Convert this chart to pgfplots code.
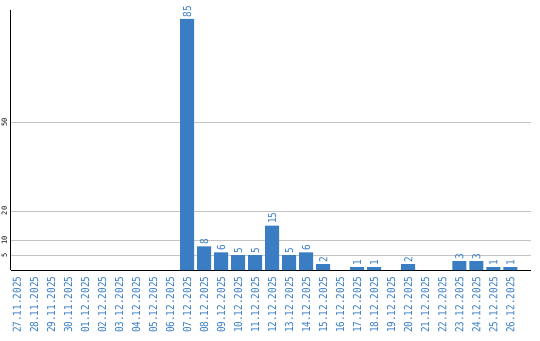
\documentclass[border=0pt]{standalone}
\usepackage{fontspec}
\setmainfont{DejaVu Sans Mono}
\usepackage{graphicx}
\usepackage{pgfplots}
\pgfplotsset{compat=1.18}
\definecolor{barblue}{HTML}{3A7DC2}
\definecolor{gridgray}{HTML}{C4C4C4}
\newcommand\dl[1]{\scalebox{0.85}[1]{#1}}
\begin{document}
\begin{tikzpicture}
\useasboundingbox (-10.7pt,-70pt) rectangle (529.3pt,270pt);
\begin{axis}[
  at={(0pt,0pt)}, anchor=south west,
  scale only axis, width=520pt, height=260pt,
  xmin=-0.37, xmax=30.2, ymin=0, ymax=88,
  axis x line=bottom, axis y line=left,
  axis line style={-, black, line width=1pt},
  ymajorgrids, grid style={gridgray, line width=0.8pt},
  major tick length=0pt,
  ytick={5,10,20,50},
  yticklabel style={rotate=90, anchor=south, font=\fontsize{7}{8}\selectfont, black, inner sep=0pt, yshift=3.5pt},
  xtick={0,...,29},
  xticklabels={\dl{27.11.2025},\dl{28.11.2025},\dl{29.11.2025},\dl{30.11.2025},\dl{01.12.2025},\dl{02.12.2025},\dl{03.12.2025},\dl{04.12.2025},\dl{05.12.2025},\dl{06.12.2025},\dl{07.12.2025},\dl{08.12.2025},\dl{09.12.2025},\dl{10.12.2025},\dl{11.12.2025},\dl{12.12.2025},\dl{13.12.2025},\dl{14.12.2025},\dl{15.12.2025},\dl{16.12.2025},\dl{17.12.2025},\dl{18.12.2025},\dl{19.12.2025},\dl{20.12.2025},\dl{21.12.2025},\dl{22.12.2025},\dl{23.12.2025},\dl{24.12.2025},\dl{25.12.2025},\dl{26.12.2025}},
  xticklabel style={rotate=90, anchor=east, font=\fontsize{11}{12}\selectfont, text=barblue, inner sep=0pt, xshift=-6.5pt},
  /pgf/number format/assume math mode=true,
  clip=false,
]
\addplot[ybar, bar width=14pt, fill=barblue, draw=none,
  nodes near coords={\dl{\pgfmathprintnumber{\pgfplotspointmeta}}},
  every node near coord/.append style={rotate=90, anchor=west, font=\fontsize{11}{12}\selectfont, text=barblue, inner sep=1.5pt}]
coordinates {(10,85) (11,8) (12,6) (13,5) (14,5) (15,15) (16,5) (17,6) (18,2) (20,1) (21,1) (23,2) (26,3) (27,3) (28,1) (29,1)};
\end{axis}
\end{tikzpicture}
\end{document}
